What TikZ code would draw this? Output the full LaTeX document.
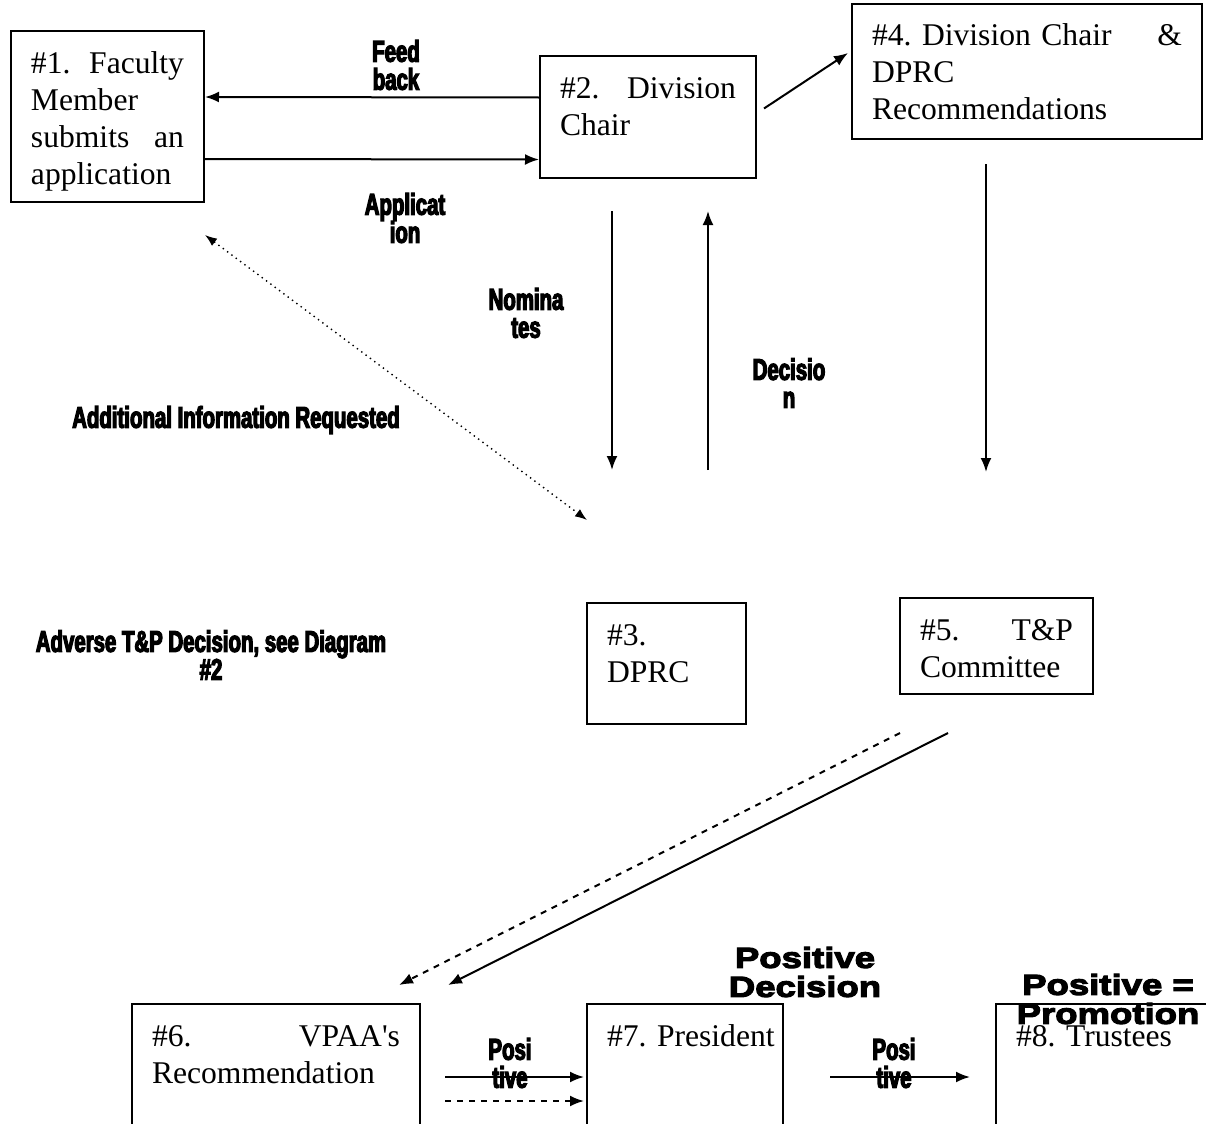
\documentclass[tikz,border=0pt]{standalone}
\usepackage{fontspec}
\setmainfont{Liberation Serif}
\newfontfamily\lblfont[FakeStretch=0.68,FakeBold=4]{Liberation Sans}
\newfontfamily\bigfont[FakeStretch=1.26,FakeBold=4]{Liberation Sans}
\usetikzlibrary{arrows.meta}

\begin{document}
\frenchspacing
\begin{tikzpicture}
  [x=0.5pt, y=-0.5pt,
   box/.style={draw, line width=1pt, anchor=north west,
     align=left, inner xsep=10pt, inner ysep=9pt, text height=12pt,
     font=\fontsize{15.8}{18.5}\selectfont},
   lbl/.style={align=center, inner sep=0pt,
     font=\lblfont\bfseries\fontsize{15}{14}\selectfont},
   big/.style={align=center, inner sep=0pt,
     font=\bigfont\bfseries\fontsize{14.5}{14.5}\selectfont},
   arr/.style={-{Latex[length=7pt,width=5.5pt]}, line width=1pt}]

  \useasboundingbox (0,0) rectangle (1206,1124);
  \clip (0,0) rectangle (1206,1124);

  % boxes
  \node[box, text width=76.5pt, text depth=55.5pt] (fac) at (10,30)
    {\#1.\hfill Faculty\\ Member\\ submits\hfill an\\ application};
  \node[box, text width=88pt, text depth=31pt] (chair) at (539,55)
    {\#2.\hfill Division\\ Chair};
  \node[box, text width=155pt, text depth=37.5pt] (rec) at (851,3)
    {\#4. Division Chair\hfill\&\\ DPRC\\ Recommendations};
  \node[box, text width=59.5pt, text depth=30.5pt] (dprc) at (586,602)
    {\#3.\\ DPRC};
  \node[box, text width=76.5pt, text depth=18pt] (tp) at (899,597)
    {\#5.\hfill T\&P\\ Committee};
  \node[box, text width=124pt, text depth=53pt] (vpaa) at (131,1003)
    {\#6.\hfill VPAA\textquotesingle s\\ Recommendation};
  \node[box, text width=78pt, text depth=53pt] (pres) at (586,1003)
    {\mbox{\#7. President}};
  \node[box, text width=100pt, text depth=53pt] (trus) at (995,1003)
    {\#8. Trustees};

  % connectors
  \draw[arr] ([shift={(0,-19.5)}]chair.west) -- ([shift={(0,-19.5)}]fac.east);
  \draw[arr] ([shift={(0,42.5)}]fac.east) -- ([shift={(0,42.5)}]chair.west);
  \draw[arr] ([shift={(7,-8.5)}]chair.east) -- ([shift={(-3,-18.5)}]rec.west);
  \draw[arr] ([shift={(-36,32)}]chair.south) -- ([shift={(-54.5,-132)}]dprc.north);
  \draw[arr] ([shift={(41.5,-132)}]dprc.north) -- ([shift={(60,32)}]chair.south);
  \draw[arr] ([shift={(-41,24)}]rec.south) -- ([shift={(-10.5,-125)}]tp.north);
  \draw[{Latex[length=6pt,width=4.5pt]}-{Latex[length=6pt,width=4.5pt]}, dotted, line width=0.7pt]
    ([shift={(0,32)}]fac.south east) -- ([shift={(1,-82)}]dprc.north west);
  \draw[arr, dashed] ([shift={(1,38)}]tp.south west) -- ([shift={(-22,-18)}]vpaa.north east);
  \draw[arr] ([shift={(-48.5,38)}]tp.south) -- ([shift={(27,-18)}]vpaa.north east);
  \draw[arr] ([shift={(24,74)}]vpaa.north east) -- ([shift={(-2,74)}]pres.north west);
  \draw[arr, dashed] ([shift={(24,98)}]vpaa.north east) -- ([shift={(-2,98)}]pres.north west);
  \draw[arr] ([shift={(46,74)}]pres.north east) -- ([shift={(-25,74)}]trus.north west);

  % labels
  \node[lbl] (feed) at (396,65) {Feed\\back};
  \node[lbl] (appl) at (405,218) {Applicat\\ion};
  \node[lbl] (nom) at (526,313) {Nomina\\tes};
  \node[lbl] (dec) at (789,383) {Decisio\\n};
  \node[lbl] (info) at (236,420) {Additional Information Requested};
  \node[lbl] (adv) at (211,655) {Adverse T\&P Decision, see Diagram\\\#2};
  \node[lbl] (pos1) at (510,1063) {Posi\\tive};
  \node[lbl] (pos2) at (894,1063) {Posi\\tive};
  \node[big] (posdec) at (805,972) {Positive\\Decision};
  \node[big] (prom) at (1108,999) {Positive =\\Promotion};
\end{tikzpicture}
\end{document}
